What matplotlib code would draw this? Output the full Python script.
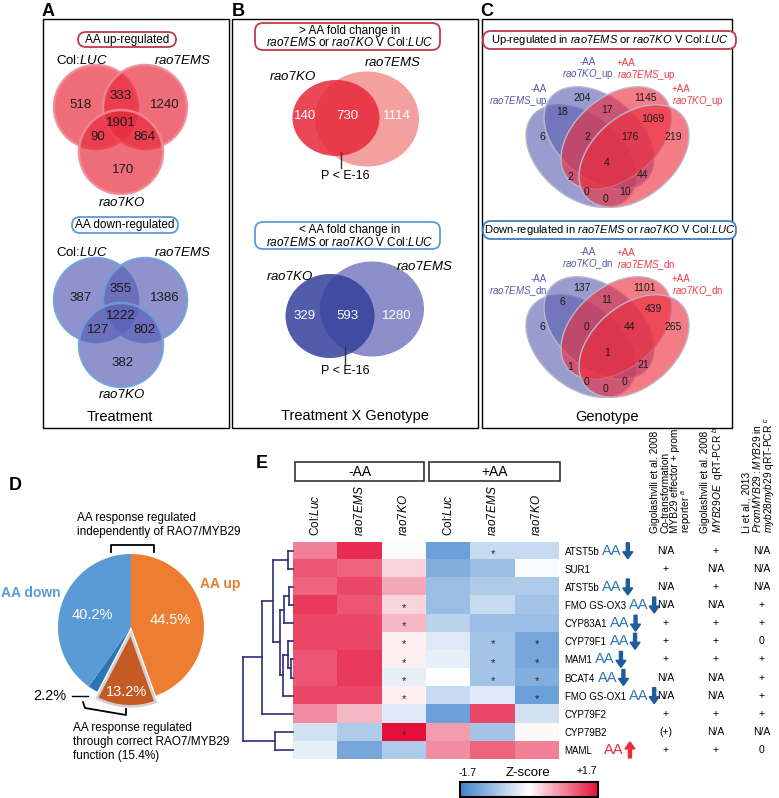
import numpy as np
import matplotlib
matplotlib.use('Agg')
import matplotlib.pyplot as plt
from matplotlib.patches import Circle, Ellipse, Rectangle, FancyBboxPatch, FancyArrow
from matplotlib.colors import LinearSegmentedColormap, Normalize
from matplotlib.cm import ScalarMappable
from matplotlib.transforms import blended_transform_factory

plt.rcParams['font.family'] = ['Liberation Sans', 'DejaVu Sans']
plt.rcParams['mathtext.fontset'] = 'custom'
plt.rcParams['mathtext.rm'] = 'Liberation Sans'
plt.rcParams['mathtext.it'] = 'Liberation Sans:italic'
plt.rcParams['mathtext.bf'] = 'Liberation Sans:bold'

W, H = 779, 798

# A: 3-way venn counts (LUC only, LUC&EMS, EMS only, all three, LUC&KO, EMS&KO, KO only)
venn_up = [518, 333, 1240, 1901, 90, 864, 170]
venn_dn = [387, 355, 1386, 1222, 127, 802, 382]
# B: rao7KO only, both, rao7EMS only
fold_up = [140, 730, 1114]
fold_dn = [329, 593, 1280]
# C: 4-way venn region counts
quad_up = [204, 1145, 17, 18, 1069, 6, 2, 176, 219, 4, 2, 44, 0, 10, 0]
quad_dn = [137, 1101, 11, 6, 439, 6, 0, 44, 265, 1, 1, 21, 0, 0, 0]
# D: pie
pie_vals = [44.5, 13.2, 2.2, 40.2]
pie_labels = ['44.5%', '13.2%', '2.2%', '40.2%']
pie_colors = ['#ed7d31', '#c65a24', '#2e75b6', '#5b9bd5']
# E: heatmap
genes = ['ATST5b', 'SUR1', 'ATST5b', 'FMO GS-OX3', 'CYP83A1', 'CYP79F1', 'MAM1',
         'BCAT4', 'FMO GS-OX1', 'CYP79F2', 'CYP79B2', 'MAML']
conds = ['Col:$\\it{Luc}$', '$\\it{rao7EMS}$', '$\\it{rao7KO}$'] * 2
zscore = np.array([
    [0.9, 1.5, -0.05, -1.3, -0.5, -0.5],
    [1.2, 1.1, 0.3, -1.1, -0.9, -0.05],
    [1.1, 1.3, 0.6, -0.9, -0.7, -0.7],
    [1.4, 1.2, 0.3, -0.9, -0.5, -0.8],
    [1.3, 1.3, 0.5, -0.6, -0.9, -0.9],
    [1.3, 1.3, 0.1, -0.3, -0.8, -1.2],
    [1.2, 1.4, 0.1, -0.2, -0.8, -1.2],
    [1.2, 1.4, -0.2, 0.0, -0.8, -1.1],
    [1.3, 1.3, 0.1, -0.5, -0.3, -1.3],
    [0.8, 0.5, -0.3, -1.3, 1.3, -0.4],
    [-0.4, -0.7, 1.7, 0.7, -0.8, 0.05],
    [-0.2, -1.2, -0.7, 0.8, 1.1, 0.9],
])
star_rows = [0, 3, 4, 5, 6, 7, 8, 5, 6, 7, 5, 6, 7, 8, 10]
star_cols = [4, 2, 2, 2, 2, 2, 2, 4, 4, 4, 5, 5, 5, 5, 2]
aa_dir = ['down', None, 'down', 'down', 'down', 'down', 'down', 'down', 'down', None, None, 'up']
lit_a = ['N/A', '+', 'N/A', 'N/A', '+', '+', '+', 'N/A', 'N/A', '+', '(+)', '+']
lit_b = ['+', 'N/A', '+', 'N/A', '+', '+', '+', 'N/A', 'N/A', '+', 'N/A', '+']
lit_c = ['N/A', 'N/A', 'N/A', '+', '+', '0', '+', '+', '+', '+', 'N/A', '0']
# dendrogram merges: (child a, child b, join position in px)
merges = [(0, 1, 288), (2, 3, 289), (13, 4, 284), (6, 7, 291), (5, 15, 288), (16, 8, 283),
          (14, 17, 280), (12, 18, 273), (19, 9, 262), (10, 11, 275), (20, 21, 243)]

fig = plt.figure(figsize=(W / 100, H / 100), dpi=100)


def frac(x0, y0, x1, y1):
    return [x0 / W, 1 - y1 / H, (x1 - x0) / W, (y1 - y0) / H]


ov = fig.add_axes([0, 0, 1, 1])
ov.set_xlim(0, W)
ov.set_ylim(H, 0)
ov.axis('off')
ov.set_zorder(5)


def T(x, y, s, **kw):
    kw.setdefault('ha', 'center')
    kw.setdefault('va', 'center')
    return ov.text(x, y, s, **kw)


def oval(x0, x1, y0, y1, ec):
    ov.add_patch(FancyBboxPatch((x0, y0), x1 - x0, y1 - y0,
                                boxstyle='round,pad=0,rounding_size=8',
                                fc='white', ec=ec, lw=1.3))


# panel frames
for x0, x1 in [(43, 229), (232, 478), (482, 732)]:
    ov.add_patch(Rectangle((x0, 19), x1 - x0, 409, fill=False, ec='black', lw=1.0))
for s, x, y in [('A', 48, 11), ('B', 238, 11), ('C', 487, 11), ('D', 15, 486), ('E', 262, 463)]:
    T(x, y, s, fontsize=13, fontweight='bold')

# ---- panel A
venn_xy = [(81, 105), (121, 96), (165, 105), (121, 123), (98, 137), (144, 137), (123, 170)]
for dy, vals, fc, ec, lab in [(0, venn_up, '#e8283a', '#f08a94', 'AA up-regulated'),
                              (193, venn_dn, '#5a5fb5', '#6fa0d8', 'AA down-regulated')]:
    for cx, cy in [(96, 107), (145, 107), (121, 152)]:
        ov.add_patch(Circle((cx, cy + dy), 42, fc=fc, alpha=0.68, ec='none'))
        ov.add_patch(Circle((cx, cy + dy), 42, fill=False, ec=ec, lw=1.8, alpha=0.9))
    for (x, y), v in zip(venn_xy, vals):
        T(x, y + dy, str(v), fontsize=9.5, color='#1a1a1a')
    T(82, 60 + dy, 'Col:$\\it{LUC}$', fontsize=9.5)
    T(183, 60 + dy, '$\\it{rao7EMS}$', fontsize=9.5)
    T(122, 202 + dy, '$\\it{rao7KO}$', fontsize=9.5)
    ec2 = '#c0394b' if dy == 0 else '#5b9bd5'
    if dy == 0:
        oval(78, 176, 32, 47, ec2)
    else:
        oval(72, 178, 217, 233, ec2)
    T(127 - dy * 0.01, 39.5 + dy * 0.96, lab, fontsize=8.5)
T(120, 417, 'Treatment', fontsize=10.5)

# ---- panel B
for dy, vals, c_light, c_dark, ec, head in [
        (0, fold_up, '#f4a09f', '#e8283a', '#c0394b', '> AA fold change in'),
        (199, fold_dn, '#8c8fca', '#33409b', '#5b9bd5', '< AA fold change in')]:
    if dy == 0:
        ov.add_patch(Ellipse((367, 119), 104, 95, fc=c_light, ec='none'))
        ov.add_patch(Ellipse((336, 118), 87, 76, fc=c_dark, alpha=0.85, ec='none'))
        T(293, 76, '$\\it{rao7KO}$', fontsize=9.5)
        T(393, 62, '$\\it{rao7EMS}$', fontsize=9.5)
        lx = 341
    else:
        ov.add_patch(Ellipse((372, 309), 104, 95, fc=c_light, ec='none'))
        ov.add_patch(Ellipse((330, 316), 89, 84, fc=c_dark, alpha=0.85, ec='none'))
        T(290, 276, '$\\it{rao7KO}$', fontsize=9.5)
        T(425, 266, '$\\it{rao7EMS}$', fontsize=9.5)
        lx = 345
    for x, v in zip([305, 347, 397], vals):
        T(x, 116 + dy * 1.005, str(v), fontsize=9.5, color='white')
    ov.plot([lx, lx], [152 + dy * 0.98, 168 + dy * 0.99], color='#333333', lw=1)
    T(345, 176 + dy * 0.98, 'P < E-16', fontsize=9)
    oval(255, 440, 23 + dy, 50 + dy, ec)
    T(350, 31 + dy, head, fontsize=8.5)
    T(350, 43 + dy, '$\\it{rao7EMS}$ or $\\it{rao7KO}$ V Col:$\\it{LUC}$', fontsize=8.5)
T(355, 416, 'Treatment X Genotype', fontsize=10.5)

# ---- panel C
quad_xy = [(582, 98), (645, 98), (607, 110), (562, 112), (653, 119), (542, 137), (587, 137),
           (630, 137), (673, 137), (607, 163), (570, 177), (643, 175), (587, 192), (625, 192),
           (606, 199)]
ell = [((581, 156), 40, '#5c5fb2'), ((599, 138), 40, '#5c5fb2'),
       ((616, 138), -40, '#ee2c3c'), ((634, 156), -40, '#ee2c3c')]
for dy, vals, suf, ec, head in [(0, quad_up, 'up', '#c0394b', 'Up-regulated'),
                                (190, quad_dn, 'dn', '#3d7fc4', 'Down-regulated')]:
    for (cx, cy), ang, c in ell:
        ov.add_patch(Ellipse((cx, cy + dy), 126, 82, angle=ang, fc=c, alpha=0.62, ec='none'))
        ov.add_patch(Ellipse((cx, cy + dy), 126, 82, angle=ang, fill=False, ec='#b8b8c8', lw=1))
    for (x, y), v in zip(quad_xy, vals):
        T(x, y + dy, str(v), fontsize=7.5, color='#1a1a1a')
    blue, red = '#5557a8', '#ec3a48'
    T(588, 69 + dy, '-AA\n$\\it{rao7KO}$_' + suf, fontsize=7, color=blue, linespacing=0.95)
    T(617, 70 + dy, '+AA\n$\\it{rao7EMS}$_' + suf, fontsize=7, color=red, ha='left',
      linespacing=0.95)
    T(547, 96 + dy, '-AA\n$\\it{rao7EMS}$_' + suf, fontsize=7, color=blue, ha='right',
      linespacing=0.95)
    T(672, 96 + dy, '+AA\n$\\it{rao7KO}$_' + suf, fontsize=7, color=red, ha='left',
      linespacing=0.95)
    oval(483, 736, 31 + dy, 49 + dy, ec)
    T(610, 40 + dy, head + ' in $\\it{rao7EMS}$ or $\\it{rao7KO}$ V Col:$\\it{LUC}$',
      fontsize=8)
T(607, 417, 'Genotype', fontsize=10.5)

# ---- panel D pie
pcx, pcy, R = 131, 627, 73
pax = fig.add_axes(frac(pcx - 90, pcy - 90, pcx + 90, pcy + 90))
wedges, _ = pax.pie(pie_vals, colors=pie_colors, startangle=90, counterclock=False,
                    explode=[0, 0.07, 0, 0], radius=R / 90)
pax.set_xlim(-1, 1)
pax.set_ylim(-1, 1)
wedges[1].set_edgecolor('#d0d0d0')
wedges[1].set_linewidth(1.8)
for w, lab, d in zip(wedges, pie_labels, [0.55, 0.8, None, 0.55]):
    if d is None:
        continue
    a = np.deg2rad((w.theta1 + w.theta2) / 2)
    cx, cy = w.center
    pax.text(cx + d * w.r * np.cos(a), cy + d * w.r * np.sin(a), lab, color='white',
             fontsize=10.5, ha='center', va='center')
T(50, 696, '2.2%', fontsize=10.5)
ov.plot([72, 88], [696, 696], color='black', lw=1)
T(1, 593, 'AA down', fontsize=10, fontweight='bold', color='#5b9bd5', ha='left')
T(200, 584, 'AA up', fontsize=10, fontweight='bold', color='#ed7d31', ha='left')
T(77, 525, 'AA response regulated\nindependently of RAO7/MYB29', fontsize=8.5, ha='left',
  linespacing=1.2)
ov.plot([111, 111, 154, 154], [552, 545, 545, 552], color='black', lw=1.3)
ov.plot([83, 85, 126, 126], [702, 708, 715, 709], color='black', lw=1.3)
T(73, 742, 'AA response regulated\nthrough correct RAO7/MYB29\nfunction (15.4%)', fontsize=8.5,
  ha='left', linespacing=1.2)

# ---- panel E heatmap
cmap = LinearSegmentedColormap.from_list('zs', ['#3f83cc', '#ffffff', '#e5103a'])
hax = fig.add_axes(frac(293, 541.7, 559, 759))
hax.imshow(zscore, cmap=cmap, vmin=-1.7, vmax=1.7, aspect='auto')
for r, c in zip(star_rows, star_cols):
    hax.text(c, r + 0.18, '*', ha='center', va='center', fontsize=8, color='#222222')
hax.set_xticks(range(6))
hax.set_xticklabels(conds, rotation=90, fontsize=8.5)
hax.xaxis.tick_top()
hax.set_yticks(range(12))
hax.set_yticklabels(genes, fontsize=7)
hax.yaxis.tick_right()
hax.tick_params(length=0, pad=4)
for sp in hax.spines.values():
    sp.set_visible(False)

for x0, x1, s in [(295, 424, '-AA'), (429, 560, '+AA')]:
    ov.add_patch(Rectangle((x0, 462), x1 - x0, 19, fill=False, ec='#333333', lw=1.2))
    T((x0 + x1) / 2, 471.5, s, fontsize=10)

bt = blended_transform_factory(ov.transData, hax.transData)
node_x = {i: 293 for i in range(12)}
node_y = {i: float(i) for i in range(12)}
for k, (a, b, h) in enumerate(merges):
    for c in (a, b):
        ov.plot([node_x[c], h], [node_y[c]] * 2, color='#2a2d7c', lw=1.2, transform=bt)
    ov.plot([h, h], [node_y[a], node_y[b]], color='#2a2d7c', lw=1.2, transform=bt)
    node_x[12 + k] = h
    node_y[12 + k] = (node_y[a] + node_y[b]) / 2

for col, xs in [(lit_a, 666), (lit_b, 716), (lit_c, 762)]:
    for i, s in enumerate(col):
        ov.text(xs, i, s, transform=bt, ha='center', va='center', fontsize=7.5)

heads = [(672, 'Gigolashvili et al. 2008\nCo-transformation\nMYB29 effector + prom:\nreporter $^{a}$'),
         (713, 'Gigolashvili et al. 2008\n$\\it{MYB29OE}$  qRT-PCR $^{b}$'),
         (759, 'Li et al., 2013\n$\\it{PromMYB29{:}MYB29}$ in\n$\\it{myb28myb29}$ qRT-PCR $^{c}$')]
for x, s in heads:
    T(x, 533, s, rotation=90, va='bottom', fontsize=7.3, linespacing=0.95, multialignment='left')

fig.canvas.draw()
rend = fig.canvas.get_renderer()
for i, lab in enumerate(hax.get_yticklabels()):
    d = aa_dir[i]
    if d is None:
        continue
    bb = lab.get_window_extent(rend)
    yc = H - hax.transData.transform((0, i))[1]
    col_t = '#2e75b6' if d == 'down' else '#ee2b3b'
    col_a = '#1f5c9e' if d == 'down' else '#ee2b3b'
    gap = 3 if d == 'down' else 12
    t = T(bb.x1 + gap, yc, 'AA', fontsize=10.5, color=col_t, ha='left')
    tb = t.get_window_extent(rend)
    ax_x = tb.x1 + 6
    if d == 'down':
        ov.add_patch(FancyArrow(ax_x, yc - 8, 0, 16, width=3, head_width=10, head_length=7,
                                length_includes_head=True, color=col_a))
    else:
        ov.add_patch(FancyArrow(ax_x, yc + 8, 0, -16, width=3, head_width=10, head_length=7,
                                length_includes_head=True, color=col_a))

cax = fig.add_axes(frac(460, 782, 598, 797))
cb = fig.colorbar(ScalarMappable(norm=Normalize(-1.7, 1.7), cmap=cmap), cax=cax,
                  orientation='horizontal')
cb.set_ticks([])
cb.outline.set_linewidth(1.5)
T(468, 773, '-1.7', fontsize=7.5)
T(528, 773, 'Z-score', fontsize=9.5)
T(587, 771, '+1.7', fontsize=7.5)

fig.savefig('out.png', dpi=100)
